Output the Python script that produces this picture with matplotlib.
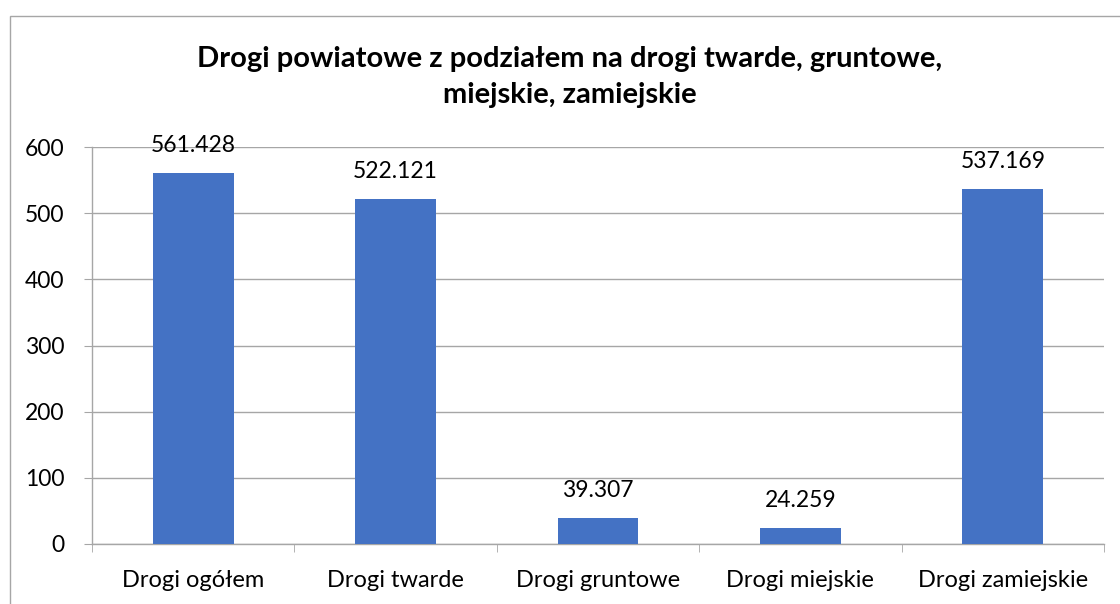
import matplotlib
matplotlib.use("Agg")
import matplotlib.pyplot as plt
from matplotlib.patches import Rectangle

categories = ["Drogi ogółem", "Drogi twarde", "Drogi gruntowe", "Drogi miejskie", "Drogi zamiejskie"]
values = [561.428, 522.121, 39.307, 24.259, 537.169]
value_labels = ["561.428", "522.121", "39.307", "24.259", "537.169"]
yticks = [0, 100, 200, 300, 400, 500, 600]
title = "Drogi powiatowe z podziałem na drogi twarde, gruntowe,\nmiejskie, zamiejskie"

plt.rcParams['font.family'] = ['Lato', 'DejaVu Sans']

W, H = 1120, 604
fig = plt.figure(figsize=(W / 100, H / 100), dpi=100)
fig.patch.set_facecolor("white")

# chart border
fig.patches.append(Rectangle((9.5 / W, -0.05), 1.2, 1 - 15.5 / H + 0.05, transform=fig.transFigure,
                             fill=False, edgecolor="#a6a6a6", linewidth=1.0))

left, right, top, bottom = 92, 1104, 147, 544
ax = fig.add_axes([left / W, 1 - bottom / H, (right - left) / W, (bottom - top) / H])

fs = 16.5
x = list(range(len(categories)))
ax.bar(x, values, width=0.4, color="#4472C4", zorder=3)
ax.set_xlim(-0.5, len(categories) - 0.5)
ax.set_ylim(0, 600)
ax.set_yticks(yticks)
ax.set_yticklabels([str(t) for t in yticks], fontsize=fs)
ax.grid(axis="y", color="#a6a6a6", linewidth=1.0, zorder=0)
for s in ["top", "right"]:
    ax.spines[s].set_visible(False)
for s in ["left", "bottom"]:
    ax.spines[s].set_color("#a6a6a6")
    ax.spines[s].set_linewidth(1.0)

ax.tick_params(axis="y", length=6, color="#a6a6a6", pad=14, labelcolor="black")
ax.set_xticks(x)
ax.set_xticklabels(categories, fontsize=17)
ax.tick_params(axis="x", length=0, pad=19, labelcolor="black")
# category boundary ticks
ax.set_xticks([i - 0.5 for i in range(len(categories) + 1)], minor=True)
ax.tick_params(axis="x", which="minor", length=6, color="#a6a6a6")

for xi, v, lab in zip(x, values, value_labels):
    ax.annotate(lab, (xi, v), xytext=(0, 12), textcoords="offset points",
                ha="center", va="bottom", fontsize=fs, color="black")

fig.text(570 / W, 1 - 77 / H, title, ha="center", va="center",
         fontsize=21, fontweight="bold", linespacing=1.5)

fig.savefig("out.png", dpi=100)
